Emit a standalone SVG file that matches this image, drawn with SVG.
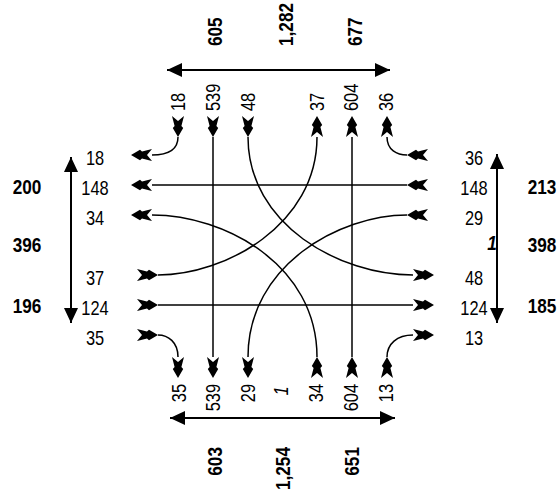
<svg xmlns="http://www.w3.org/2000/svg" width="558" height="495" viewBox="0 0 558 495">
<style>
  .mv { fill: none; stroke: #000; stroke-width: 1.5; marker-start: url(#tail); marker-end: url(#head); }
  .dim { fill: none; stroke: #000; stroke-width: 2; marker-start: url(#dimS); marker-end: url(#dimE); }
  text { font-family: 'Liberation Sans', Arial, sans-serif; fill: #000; }
  .n { font-size: 20px; }
  .b { font-size: 20px; font-weight: bold; }
  .c { text-anchor: middle; }
  .s { text-anchor: start; }
  .e { text-anchor: end; }
</style>
<defs>
  <marker id="head" markerUnits="userSpaceOnUse" viewBox="0 0 22 12" markerWidth="22" markerHeight="12" refX="0" refY="6" orient="auto">
    <polygon points="21,6 12,0.8 10,2.6 0,0 5,6 0,12 10,9.4 12,11.2" fill="#000"/>
  </marker>
  <marker id="tail" markerUnits="userSpaceOnUse" viewBox="0 0 22 12" markerWidth="22" markerHeight="12" refX="21" refY="6" orient="auto">
    <polygon points="21,6 12,0.8 10,2.6 0,0 5,6 0,12 10,9.4 12,11.2" fill="#000"/>
  </marker>
  <marker id="dimE" markerUnits="userSpaceOnUse" viewBox="0 0 16 14" markerWidth="16" markerHeight="14" refX="15" refY="7" orient="auto">
    <path d="M0,0 L15,7 L0,14 Z" fill="#000"/>
  </marker>
  <marker id="dimS" markerUnits="userSpaceOnUse" viewBox="0 0 16 14" markerWidth="16" markerHeight="14" refX="0" refY="7" orient="auto">
    <path d="M15,0 L0,7 L15,14 Z" fill="#000"/>
  </marker>
</defs>
<rect width="558" height="495" fill="#fff"/>

<g id="connectors">
  <path class="mv" d="M213,137 L213,357"/>
  <path class="mv" d="M352,357 L352,137"/>
  <path class="mv" d="M407,185 L152,185"/>
  <path class="mv" d="M158,305 L413,305"/>
  <path class="mv" d="M178,137 C178,150 168,155 152,155"/>
  <path class="mv" d="M407,155 C397,155 387,150 387,137"/>
  <path class="mv" d="M158,335 C168,335 178,342 178,357"/>
  <path class="mv" d="M387,357 C387,344 397,335 413,335"/>
  <path class="mv" d="M317,357 C317,265 225,215 152,215"/>
  <path class="mv" d="M158,275 C225,275 317,225 317,137"/>
  <path class="mv" d="M248,137 C248,225 340,275 413,275"/>
  <path class="mv" d="M407,215 C340,215 248,265 248,357"/>
  <path class="dim" d="M167,70 L390,70"/>
  <path class="dim" d="M170,418 L395,418"/>
  <path class="dim" d="M71,157 L71,323"/>
  <path class="dim" d="M497,154 L497,323"/>
</g>

<g id="west-labels" class="n c">
  <text transform="translate(95,165) scale(0.82,1)">18</text>
  <text transform="translate(95,195) scale(0.82,1)">148</text>
  <text transform="translate(95,225) scale(0.82,1)">34</text>
  <text transform="translate(95,285) scale(0.82,1)">37</text>
  <text transform="translate(95,315) scale(0.82,1)">124</text>
  <text transform="translate(95,345) scale(0.82,1)">35</text>
</g>
<g id="east-labels" class="n c">
  <text transform="translate(474,165) scale(0.82,1)">36</text>
  <text transform="translate(474,195) scale(0.82,1)">148</text>
  <text transform="translate(474,225) scale(0.82,1)">29</text>
  <text transform="translate(474,285) scale(0.82,1)">48</text>
  <text transform="translate(474,315) scale(0.82,1)">124</text>
  <text transform="translate(474,345) scale(0.82,1)">13</text>
</g>
<g id="west-totals" class="b c">
  <text transform="translate(27,194) scale(0.86,1)">200</text>
  <text transform="translate(27,252) scale(0.86,1)">396</text>
  <text transform="translate(27,313) scale(0.86,1)">196</text>
</g>
<g id="east-totals" class="b c">
  <text transform="translate(542,194) scale(0.86,1)">213</text>
  <text transform="translate(542,252) scale(0.86,1)">398</text>
  <text transform="translate(542,313) scale(0.86,1)">185</text>
</g>
<g id="north-labels" class="n s">
  <text transform="translate(185,111) rotate(-90) scale(0.82,1)">18</text>
  <text transform="translate(220,111) rotate(-90) scale(0.82,1)">539</text>
  <text transform="translate(255,111) rotate(-90) scale(0.82,1)">48</text>
  <text transform="translate(324,111) rotate(-90) scale(0.82,1)">37</text>
  <text transform="translate(358,111) rotate(-90) scale(0.82,1)">604</text>
  <text transform="translate(393,111) rotate(-90) scale(0.82,1)">36</text>
</g>
<g id="south-labels" class="n e">
  <text transform="translate(186,384) rotate(-90) scale(0.82,1)">35</text>
  <text transform="translate(220,384) rotate(-90) scale(0.82,1)">539</text>
  <text transform="translate(255,384) rotate(-90) scale(0.82,1)">29</text>
  <text transform="translate(323,384) rotate(-90) scale(0.82,1)">34</text>
  <text transform="translate(358,384) rotate(-90) scale(0.82,1)">604</text>
  <text transform="translate(393,384) rotate(-90) scale(0.82,1)">13</text>
</g>
<g id="north-totals" class="b s">
  <text transform="translate(222,46) rotate(-90) scale(0.86,1)">605</text>
  <text transform="translate(293,46) rotate(-90) scale(0.86,1)">1,282</text>
  <text transform="translate(362,46) rotate(-90) scale(0.86,1)">677</text>
</g>
<g id="south-totals" class="b e">
  <text transform="translate(222,447) rotate(-90) scale(0.86,1)">603</text>
  <text transform="translate(290,447) rotate(-90) scale(0.86,1)">1,254</text>
  <text transform="translate(359,447) rotate(-90) scale(0.86,1)">651</text>
</g>
<g id="marks">
  <text class="b c" transform="translate(492,250) scale(0.86,1)" font-style="italic">1</text>
  <text class="n c" transform="translate(288,391) rotate(-90) scale(0.82,1)" font-style="italic">1</text>
</g>
</svg>
